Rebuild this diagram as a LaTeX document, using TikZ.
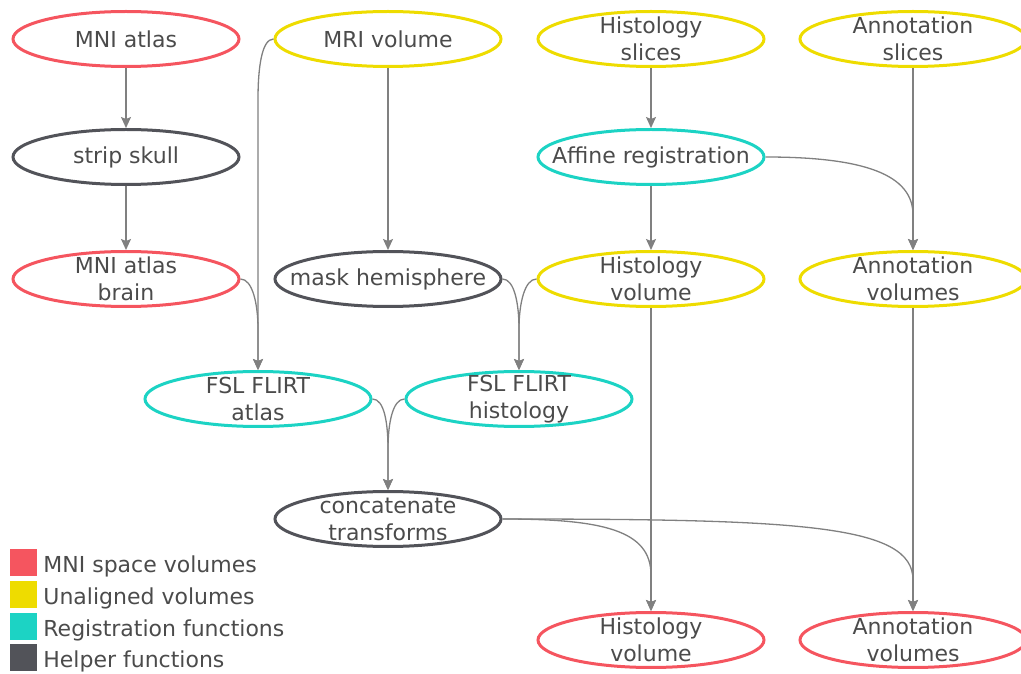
\documentclass[tikz,border=0pt]{standalone}
\usepackage{fontspec}
\setmainfont{DejaVu Sans}
\usepackage{tikz}
\usetikzlibrary{arrows.meta,positioning,calc,shapes.geometric}
\definecolor{mnired}{RGB}{245,85,95}
\definecolor{rawyellow}{RGB}{238,220,0}
\definecolor{regteal}{RGB}{28,211,196}
\definecolor{helpgray}{RGB}{82,83,89}
\definecolor{txtgray}{RGB}{75,75,75}
\definecolor{linkgray}{RGB}{128,128,128}

\begin{document}
\begin{tikzpicture}[x=1pt, y=1pt,
    every node/.style={font=\fontsize{22}{27}\selectfont, text=txtgray},
    blob/.style={ellipse, draw, line width=3pt, minimum width=226pt, minimum height=55pt,
      inner xsep=-40pt, inner ysep=-12pt, align=center},
    mnivol/.style={blob, draw=mnired},
    rawvol/.style={blob, draw=rawyellow},
    regfun/.style={blob, draw=regteal},
    helpfun/.style={blob, draw=helpgray},
    link/.style={draw=linkgray, line width=1.3pt, -{Stealth[length=11pt,width=10pt,inset=2pt]}},
    key/.style={minimum size=27pt, inner sep=0pt},
    keytext/.style={inner xsep=0pt, inner ysep=0pt, yshift=-10pt},
  ]
  \useasboundingbox (0,0) rectangle (1021,673);

  % inputs
  \node[mnivol] (mni) at (126,634) {MNI atlas};
  \node[rawvol] (mri) at (388,634) {MRI volume};
  \node[rawvol] (hslice) at (651,634) {Histology\\slices};
  \node[rawvol] (aslice) at (913,634) {Annotation\\slices};

  % preprocessing
  \node[helpfun] (skull) at (126,516) {strip skull};
  \node[regfun] (affine) at (651,516) {Affine registration};
  \node[mnivol] (mnibrain) at (126,394) {MNI atlas\\brain};
  \node[helpfun] (mask) at (388,394) {mask hemisphere};
  \node[rawvol] (hvol) at (651,394) {Histology\\volume};
  \node[rawvol] (avol) at (913,394) {Annotation\\volumes};

  % registration
  \node[regfun] (flatlas) at (258,274) {FSL FLIRT\\atlas};
  \node[regfun] (flhist) at (519,274) {FSL FLIRT\\histology};
  \node[helpfun] (concat) at (388,154) {concatenate\\transforms};

  % outputs
  \node[mnivol] (hout) at (651,33) {Histology\\volume};
  \node[mnivol] (aout) at (913,33) {Annotation\\volumes};

  % straight links
  \foreach \u/\v in {mni/skull,skull/mnibrain,mri/mask,hslice/affine,affine/hvol,aslice/avol,hvol/hout,avol/aout}{
    \draw[link] (\u.south) -- (\v.north);
  }

  % bent links
  \draw[link] (mri.west) .. controls +(-12,0) and +(0,30) .. ($(mri.west -| flatlas.north)+(0,-60)$) -- (flatlas.north);
  \draw[link] (mnibrain.east) .. controls +(12,0) and +(0,25) .. ($(mnibrain.east -| flatlas.north)+(0,-50)$) -- (flatlas.north);
  \draw[link] (mask.east) .. controls +(12,0) and +(0,25) .. ($(mask.east -| flhist.north)+(0,-50)$) -- (flhist.north);
  \draw[link] (hvol.west) .. controls +(-12,0) and +(0,25) .. ($(hvol.west -| flhist.north)+(0,-50)$) -- (flhist.north);
  \draw[link] (flatlas.east) .. controls +(12,0) and +(0,25) .. ($(flatlas.east -| concat.north)+(0,-50)$) -- (concat.north);
  \draw[link] (flhist.west) .. controls +(-12,0) and +(0,25) .. ($(flhist.west -| concat.north)+(0,-50)$) -- (concat.north);
  \draw[link] (affine.east) .. controls +(100,0) and +(0,40) .. ($(avol.north)+(0,35)$) -- (avol.north);
  \draw[link] (concat.east) .. controls +(100,0) and +(0,45) .. ($(hout.north)+(0,36)$) -- (hout.north);
  \draw[link] (concat.east) .. controls +(300,0) and +(0,55) .. ($(aout.north)+(0,31)$) -- (aout.north);

  % legend
  \node[key, fill=mnired] (mnikey) at (23.5,110.5) {};
  \node[keytext, base right=6pt of mnikey] (mnilabel) {MNI space volumes};
  \node[key, fill=rawyellow] (rawkey) at (23.5,79) {};
  \node[keytext, base right=6pt of rawkey] (rawlabel) {Unaligned volumes};
  \node[key, fill=regteal] (regkey) at (23.5,47) {};
  \node[keytext, base right=6pt of regkey] (reglabel) {Registration functions};
  \node[key, fill=helpgray] (helpkey) at (23.5,15.5) {};
  \node[keytext, base right=6pt of helpkey] (helplabel) {Helper functions};
\end{tikzpicture}
\end{document}
